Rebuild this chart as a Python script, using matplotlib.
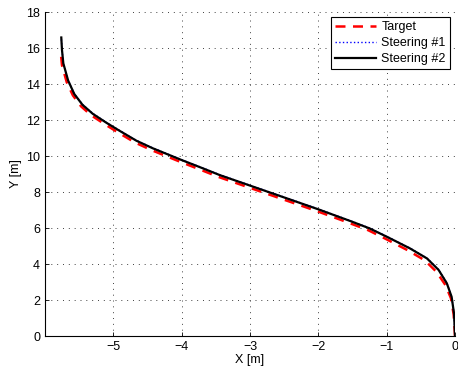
import matplotlib
matplotlib.use("Agg")
import matplotlib.pyplot as plt

plt.rcParams['font.family'] = ['Liberation Sans', 'DejaVu Sans']

# path (x, y in metres)
steer2_x = [0, -0.015, -0.05, -0.12, -0.24, -0.41, -0.66, -1.0, -1.25, -1.54, -2.0, -2.5, -3.0,
            -3.44, -3.69, -4.0, -4.42, -4.66, -4.91, -5.1, -5.3, -5.45, -5.57, -5.66, -5.73, -5.75, -5.76]
steer2_y = [0, 1.26, 2.18, 2.93, 3.67, 4.31, 4.87, 5.52, 5.98, 6.40, 7.04, 7.70, 8.36,
            8.94, 9.32, 9.78, 10.43, 10.85, 11.41, 11.85, 12.35, 12.85, 13.45, 14.2, 15.15, 15.9, 16.59]

steer1_x = [0, -0.015, -0.05, -0.12, -0.24, -0.41, -0.66, -1.0, -1.25, -1.54, -2.0, -2.5, -3.0,
            -3.44, -3.69, -4.0, -4.42, -4.66, -4.91, -5.1, -5.3, -5.45, -5.57, -5.66, -5.73, -5.75, -5.76]
steer1_y = [0, 1.27, 2.2, 2.95, 3.69, 4.33, 4.89, 5.54, 6.0, 6.42, 7.06, 7.72, 8.38,
            8.96, 9.34, 9.8, 10.45, 10.87, 11.43, 11.87, 12.37, 12.87, 13.47, 14.22, 15.17, 15.92, 16.59]

target_x = [0, -0.02, -0.06, -0.14, -0.27, -0.44, -0.69, -1.02, -1.27, -1.56, -2.02, -2.52, -3.02,
            -3.46, -3.71, -4.02, -4.44, -4.68, -4.93, -5.12, -5.32, -5.47, -5.59, -5.68, -5.75, -5.77]
target_y = [0, 1.2, 2.1, 2.83, 3.56, 4.2, 4.76, 5.41, 5.88, 6.30, 6.94, 7.60, 8.26,
            8.84, 9.22, 9.68, 10.33, 10.75, 11.31, 11.76, 12.26, 12.76, 13.37, 14.1, 15.05, 15.85]

xticks = [-5, -4, -3, -2, -1, 0]
yticks = [0, 2, 4, 6, 8, 10, 12, 14, 16, 18]

fig = plt.figure(figsize=(4.58, 3.74), dpi=100)
ax = fig.add_axes([0.098, 0.1016, 0.8955, 0.866])

ax.plot(target_x, target_y, color='red', linestyle='--', dashes=(4, 3), linewidth=1.8, label='Target')
ax.plot(steer1_x, steer1_y, color='blue', linestyle=':', linewidth=1.0, label='Steering #1')
ax.plot(steer2_x, steer2_y, color='black', linewidth=1.6, label='Steering #2')

ax.set_xlim(-6, 0)
ax.set_ylim(0, 18)
ax.set_xticks(xticks)
ax.set_yticks(yticks)
ax.set_xticklabels([str(v).replace('-', '\u2212') for v in xticks])
ax.tick_params(direction='in', length=3, labelsize=9, width=0.6)
ax.grid(True, color='0.25', linestyle=(0, (1, 5)), linewidth=0.7)

for s in ['top', 'right']:
    ax.spines[s].set_visible(False)
for s in ['left', 'bottom']:
    ax.spines[s].set_linewidth(0.8)

ax.set_xlabel('X [m]', fontsize=9, labelpad=1)
ax.set_ylabel('Y [m]', fontsize=9, labelpad=3)

leg = ax.legend(loc='upper right', fontsize=9, fancybox=False, framealpha=1,
                edgecolor='black', borderpad=0.35, labelspacing=0.3, handlelength=3.3,
                handletextpad=0.4, borderaxespad=0.4)
leg.get_frame().set_linewidth(0.8)

fig.savefig('out.png', dpi=100)
